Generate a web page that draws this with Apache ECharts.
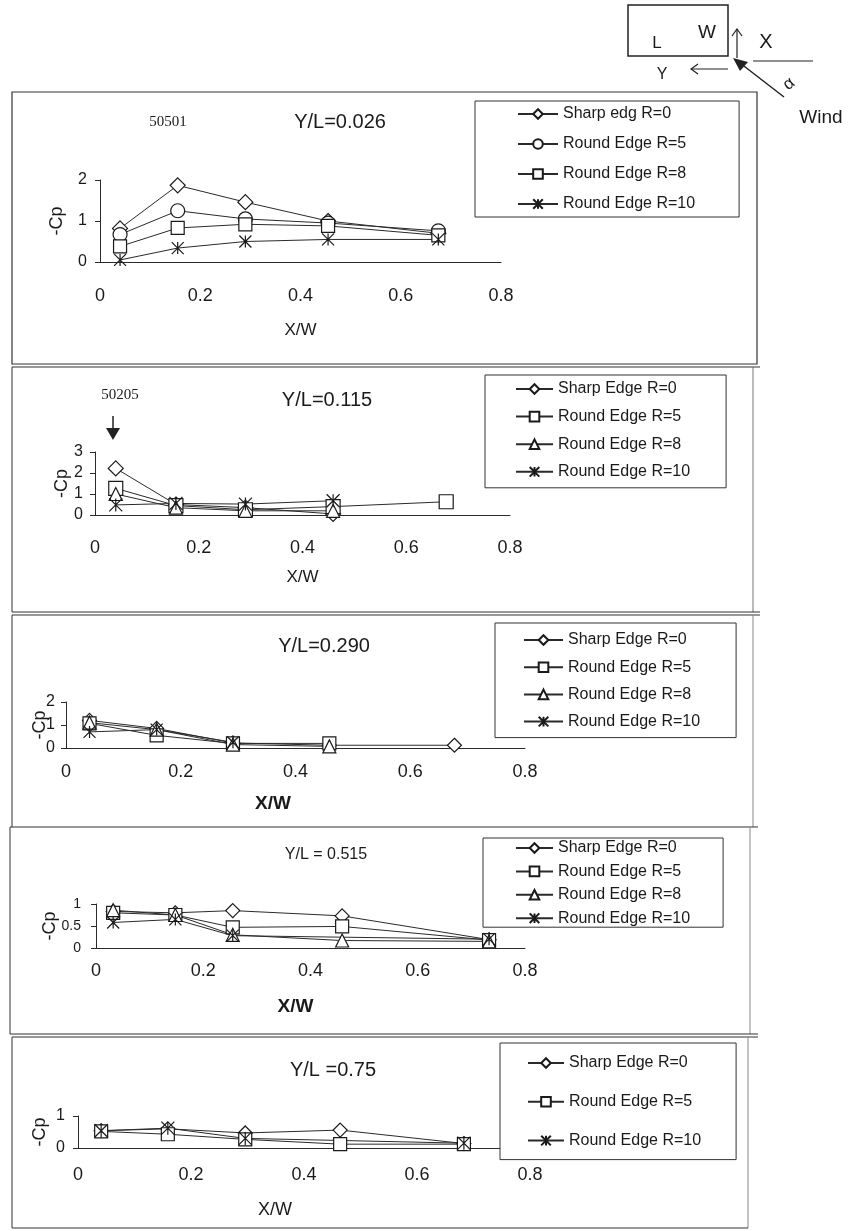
<!DOCTYPE html>
<html>
<head>
<meta charset="utf-8">
<script src="https://cdn.jsdelivr.net/npm/echarts@6/dist/echarts.min.js"></script>
<style>
html,body{margin:0;padding:0;background:#fff;}
#chart{width:848px;height:1231px;}
</style>
</head>
<body>
<div id="chart"></div>
<script>
// ---------- DATA ----------
const xTicks = ['0', '0.2', '0.4', '0.6', '0.8'];
const yTicks1 = ['0', '1', '2'];
const yTicks2 = ['0', '1', '2', '3'];
const yTicks3 = ['0', '1', '2'];
const yTicks4 = ['0', '0.5', '1'];
const yTicks5 = ['0', '1'];

const panelTitles = ['Y/L=0.026', 'Y/L=0.115', 'Y/L=0.290', 'Y/L = 0.515', 'Y/L =0.75'];

// Panel 1  (Y/L = 0.026)
const xw1 = [0.04, 0.155, 0.29, 0.455, 0.675];
const p1Sharp = [0.82, 1.87, 1.46, 1.0, 0.7];
const p1R5 = [0.67, 1.25, 1.05, 0.95, 0.76];
const p1R8 = [0.38, 0.83, 0.92, 0.88, 0.65];
const p1R10 = [0.05, 0.34, 0.5, 0.55, 0.55];
const p1Names = ['Sharp edg R=0', 'Round Edge R=5', 'Round Edge R=8', 'Round Edge R=10'];

// Panel 2  (Y/L = 0.115)
const xw2 = [0.04, 0.156, 0.29, 0.459, 0.677];
const p2Sharp = [2.22, 0.5, 0.35, 0.05];
const p2R5 = [1.27, 0.45, 0.25, 0.4, 0.63];
const p2R8 = [1.0, 0.35, 0.2, 0.2];
const p2R10 = [0.48, 0.55, 0.52, 0.68];
const p2Names = ['Sharp Edge R=0', 'Round Edge R=5', 'Round Edge R=8', 'Round Edge R=10'];

// Panel 3  (Y/L = 0.290)
const xw3 = [0.041, 0.158, 0.291, 0.459, 0.677];
const p3Sharp = [1.2, 0.85, 0.22, 0.12, 0.12];
const p3R5 = [1.07, 0.55, 0.2, 0.2];
const p3R8 = [1.1, 0.8, 0.15, 0.07];
const p3R10 = [0.7, 0.8, 0.25];
const p3Names = ['Sharp Edge R=0', 'Round Edge R=5', 'Round Edge R=8', 'Round Edge R=10'];

// Panel 4  (Y/L = 0.515)
const xw4 = [0.032, 0.148, 0.255, 0.459, 0.733];
const p4Sharp = [0.83, 0.8, 0.85, 0.73, 0.19];
const p4R5 = [0.8, 0.75, 0.47, 0.49, 0.18];
const p4R8 = [0.86, 0.75, 0.3, 0.17, 0.15];
const p4R10 = [0.58, 0.65, 0.28, null, 0.2];
const p4Names = ['Sharp Edge R=0', 'Round Edge R=5', 'Round Edge R=8', 'Round Edge R=10'];

// Panel 5  (Y/L = 0.75)
const xw5 = [0.041, 0.159, 0.296, 0.464, 0.683];
const p5Sharp = [0.54, 0.6, 0.47, 0.56, 0.14];
const p5R5 = [0.52, 0.43, 0.27, 0.12, 0.12];
const p5R10 = [0.54, 0.62, 0.3, null, 0.15];
const p5Names = ['Sharp Edge R=0', 'Round Edge R=5', 'Round Edge R=10'];

// ---------- STYLE ----------
const FONT = "'Liberation Sans', Arial, sans-serif";
const INK = '#1a1a1a';
const STAR = 'path://M0,0L10,10M10,0L0,10M5,0L5,10';

function mkSeries(idx, name, xs, ys, sym, size) {
  const data = [];
  xs.forEach((x, i) => { if (ys[i] !== undefined && ys[i] !== null) data.push([x, ys[i]]); });
  return {
    type: 'line', name: 'P' + idx + '|' + name,
    xAxisIndex: idx, yAxisIndex: idx, data: data,
    symbol: sym, symbolSize: size, showAllSymbol: true,
    lineStyle: { color: '#2a2a2a', width: 1 },
    itemStyle: { color: '#fff', borderColor: INK, borderWidth: 1.2 },
    emphasis: { disabled: true }, animation: false
  };
}

const series = [
  mkSeries(0, p1Names[0], xw1, p1Sharp, 'diamond', 15),
  mkSeries(0, p1Names[1], xw1, p1R5, 'circle', 14),
  mkSeries(0, p1Names[2], xw1, p1R8, 'rect', 13),
  mkSeries(0, p1Names[3], xw1, p1R10, STAR, 12),

  mkSeries(1, p2Names[0], xw2, p2Sharp, 'diamond', 15),
  mkSeries(1, p2Names[1], xw2, p2R5, 'rect', 14),
  mkSeries(1, p2Names[2], xw2, p2R8, 'triangle', 13),
  mkSeries(1, p2Names[3], xw2, p2R10, STAR, 13),

  mkSeries(2, p3Names[0], xw3, p3Sharp, 'diamond', 14),
  mkSeries(2, p3Names[1], xw3, p3R5, 'rect', 13),
  mkSeries(2, p3Names[2], xw3, p3R8, 'triangle', 13),
  mkSeries(2, p3Names[3], xw3, p3R10, STAR, 12),

  mkSeries(3, p4Names[0], xw4, p4Sharp, 'diamond', 14),
  mkSeries(3, p4Names[1], xw4, p4R5, 'rect', 13),
  mkSeries(3, p4Names[2], xw4, p4R8, 'triangle', 13),
  mkSeries(3, p4Names[3], xw4, p4R10, STAR, 12),

  mkSeries(4, p5Names[0], xw5, p5Sharp, 'diamond', 14),
  mkSeries(4, p5Names[1], xw5, p5R5, 'rect', 13),
  mkSeries(4, p5Names[2], xw5, p5R10, STAR, 13)
];

const grids = [
  { left: 100, top: 180, width: 401, height: 82 },
  { left: 95, top: 452, width: 415, height: 63 },
  { left: 66, top: 702, width: 459, height: 46 },
  { left: 96, top: 904, width: 429, height: 44 },
  { left: 78, top: 1116, width: 452, height: 32 }
];

const xCfg = [
  { margin: 25, nameGap: 60, pad: [0, 0, 0, 0], nameSize: 17, bold: 'normal' },
  { margin: 24, nameGap: 54, pad: [0, 0, 0, 0], nameSize: 17, bold: 'normal' },
  { margin: 15, nameGap: 46, pad: [0, 45, 0, 0], nameSize: 19, bold: 'bold' },
  { margin: 14, nameGap: 49, pad: [0, 30, 0, 0], nameSize: 19, bold: 'bold' },
  { margin: 18, nameGap: 53, pad: [0, 58, 0, 0], nameSize: 18, bold: 'normal' }
];
const yCfg = [
  { max: 2, interval: 1, labels: yTicks1, margin: 13, nameGap: 34, size: 16 },
  { max: 3, interval: 1, labels: yTicks2, margin: 12, nameGap: 24, size: 16 },
  { max: 2, interval: 1, labels: yTicks3, margin: 11, nameGap: 17, size: 16 },
  { max: 1, interval: 0.5, labels: yTicks4, margin: 15, nameGap: 37, size: 14 },
  { max: 1, interval: 1, labels: yTicks5, margin: 13, nameGap: 29, size: 16 }
];

const xAxis = xCfg.map((c, i) => ({
  type: 'value', gridIndex: i, min: 0, max: 0.8, interval: 0.2,
  axisLine: { show: true, onZero: false, lineStyle: { color: '#2a2a2a', width: 1 } },
  axisTick: { show: false }, splitLine: { show: false },
  axisLabel: { fontSize: 18, fontFamily: FONT, color: INK, margin: c.margin,
    formatter: (v, k) => xTicks[k] },
  name: 'X/W', nameLocation: 'middle', nameGap: c.nameGap, nameMoveOverlap: false,
  nameTextStyle: { fontSize: c.nameSize, fontFamily: FONT, color: INK, fontWeight: c.bold, padding: c.pad }
}));

const yAxis = yCfg.map((c, i) => ({
  type: 'value', gridIndex: i, min: 0, max: c.max, interval: c.interval,
  axisLine: { show: true, onZero: false, lineStyle: { color: '#2a2a2a', width: 1 } },
  axisTick: { show: true, length: 5, lineStyle: { color: '#2a2a2a' } },
  splitLine: { show: false },
  axisLabel: { fontSize: c.size, fontFamily: FONT, color: INK, margin: c.margin,
    formatter: (v, k) => c.labels[k] },
  name: '-Cp', nameLocation: 'middle', nameGap: c.nameGap, nameRotate: 90, nameMoveOverlap: false,
  nameTextStyle: { fontSize: 18, fontFamily: FONT, color: INK }
}));

function mkLegend(idx, names, box, iconStart, itemWidth, itemGap, padTop, padBottom) {
  const textW = 132; // approx width of widest label at 16px
  const padLeft = iconStart - box.x0;
  const padRight = box.x1 - (iconStart + itemWidth + 5 + textW);
  return {
    orient: 'vertical', left: box.x0, top: box.y0,
    padding: [padTop, padRight, padBottom, padLeft],
    itemGap: itemGap, itemWidth: itemWidth, itemHeight: 12,
    borderColor: '#333', borderWidth: 1, backgroundColor: '#fff',
    selectedMode: false,
    textStyle: { fontFamily: FONT, fontSize: 16, lineHeight: 16, color: INK },
    formatter: n => n.split('|')[1],
    data: names.map(n => 'P' + idx + '|' + n)
  };
}

const legends = [
  mkLegend(0, p1Names, { x0: 475, y0: 101, x1: 738 }, 517, 40, 14, 5, 5),
  mkLegend(1, p2Names, { x0: 485, y0: 375, x1: 725 }, 515, 37, 11.6, 6, 8),
  mkLegend(2, p3Names, { x0: 495, y0: 623, x1: 735 }, 523, 39, 11.2, 9, 8),
  mkLegend(3, p4Names, { x0: 483, y0: 838, x1: 722 }, 515, 37, 7.4, 2, 1),
  mkLegend(4, p5Names, { x0: 500, y0: 1043, x1: 735 }, 527, 36, 22.8, 12, 11)
];

// ---------- DECORATION (frames, titles, sketch) ----------
function L(x1, y1, x2, y2, w, c) {
  return { type: 'line', silent: true, z: 1, shape: { x1, y1, x2, y2 },
    style: { stroke: c || '#333', lineWidth: w || 1 } };
}
function T(x, y, text, size, opts) {
  opts = opts || {};
  return { type: 'text', silent: true, x, y, rotation: opts.rot || 0, z: 5,
    style: { text, fontSize: size, fontFamily: opts.family || FONT, fill: INK,
      align: opts.align || 'center', verticalAlign: 'middle', fontWeight: opts.weight || 'normal' } };
}

const graphic = [
  // panel frames
  { type: 'rect', silent: true, z: 1, shape: { x: 12, y: 92, width: 745, height: 272 },
    style: { fill: 'none', stroke: '#333', lineWidth: 1.2 } },
  L(12, 367, 760, 367, 1.2),
  L(12, 367, 12, 612, 1), L(753, 367, 753, 612, 1, '#777'),
  L(12, 612, 760, 612, 1.2), L(12, 615, 760, 615, 1.2),
  L(12, 615, 12, 827, 1), L(753, 615, 753, 827, 1, '#888'),
  L(10, 827, 758, 827, 1.2),
  L(10, 827, 10, 1034, 1), L(750, 827, 750, 1034, 1, '#888'),
  L(10, 1034, 758, 1034, 1.2), L(12, 1037, 758, 1037, 1),
  L(12, 1037, 12, 1228, 1), L(748, 1037, 748, 1228, 1, '#888'),
  L(12, 1228, 748, 1228, 1.2),

  // panel titles & ids
  T(340, 122, panelTitles[0], 20),
  T(168, 122, '50501', 15, { family: "'Liberation Serif', 'Times New Roman', serif" }),
  T(327, 400, panelTitles[1], 20),
  T(120, 395, '50205', 15, { family: "'Liberation Serif', 'Times New Roman', serif" }),
  T(324, 646, panelTitles[2], 20),
  T(326, 855, panelTitles[3], 16),
  T(333, 1070, panelTitles[4], 20),

  // arrow over first point of panel 2
  L(113, 416, 113, 430, 1.5, '#222'),
  { type: 'polygon', silent: true, z: 5, shape: { points: [[106, 428], [120, 428], [113, 440]] },
    style: { fill: '#222' } },

  // building / wind sketch
  { type: 'rect', silent: true, z: 1, shape: { x: 628, y: 5, width: 100, height: 51 },
    style: { fill: 'none', stroke: '#222', lineWidth: 1.5 } },
  T(657, 43, 'L', 17),
  T(707, 33, 'W', 19),
  L(737, 58, 737, 29, 1.2, '#222'),
  { type: 'polyline', silent: true, z: 1, shape: { points: [[732, 36], [737, 29], [742, 36]] },
    style: { stroke: '#222', lineWidth: 1.2, fill: 'none' } },
  T(766, 42, 'X', 20),
  L(753, 61, 813, 61, 1.2, '#222'),
  T(662, 75, 'Y', 16),
  L(728, 69, 691, 69, 1.2, '#222'),
  { type: 'polyline', silent: true, z: 1, shape: { points: [[698, 64], [691, 69], [698, 74]] },
    style: { stroke: '#222', lineWidth: 1.2, fill: 'none' } },
  L(784, 97, 740, 63, 1.5, '#222'),
  { type: 'polygon', silent: true, z: 5, shape: { points: [[733, 58], [748, 62], [740, 71]] },
    style: { fill: '#222' } },
  T(789, 84, 'α', 17, { rot: 0.7 }),
  T(821, 118, 'Wind', 19)
];

const chart = echarts.init(document.getElementById('chart'), null, { renderer: 'canvas' });
chart.setOption({
  backgroundColor: '#fff',
  animation: false,
  grid: grids,
  xAxis: xAxis,
  yAxis: yAxis,
  legend: legends,
  series: series,
  graphic: graphic
});
</script>
</body>
</html>
